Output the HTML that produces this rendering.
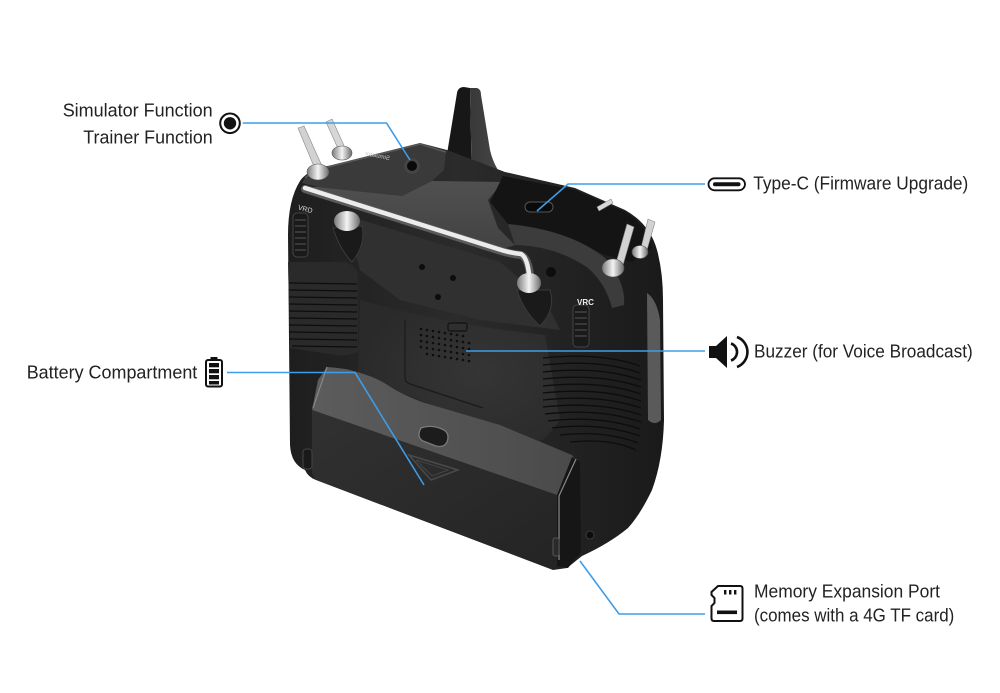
<!DOCTYPE html>
<html><head><meta charset="utf-8"><style>
html,body{margin:0;padding:0;background:#fff;}
svg{display:block}
text{font-family:"Liberation Sans",sans-serif;font-size:18px;fill:#222}
</style></head><body>
<svg width="1000" height="693" viewBox="0 0 1000 693" xmlns="http://www.w3.org/2000/svg">
<defs>
<linearGradient id="gBody" x1="0" y1="0" x2="1" y2="0">
<stop offset="0" stop-color="#1e1e1e"/><stop offset="0.45" stop-color="#2b2b2b"/><stop offset="1" stop-color="#1a1a1a"/>
</linearGradient>
<linearGradient id="gShelf" x1="0" y1="0" x2="1" y2="0">
<stop offset="0" stop-color="#5c5c5c"/><stop offset="0.6" stop-color="#525252"/><stop offset="1" stop-color="#4a4a4a"/>
</linearGradient>
<linearGradient id="gDoor" x1="0" y1="0" x2="1" y2="1">
<stop offset="0" stop-color="#313131"/><stop offset="1" stop-color="#242424"/>
</linearGradient>
<linearGradient id="gChrome" x1="0" y1="0" x2="1" y2="0">
<stop offset="0" stop-color="#7a7a7a"/><stop offset="0.5" stop-color="#f4f4f4"/><stop offset="1" stop-color="#6a6a6a"/>
</linearGradient>
<linearGradient id="gAntR" x1="0" y1="0" x2="1" y2="0">
<stop offset="0" stop-color="#383838"/><stop offset="1" stop-color="#4c4c4c"/>
</linearGradient>
<linearGradient id="gFace" x1="0" y1="0" x2="0" y2="1">
<stop offset="0" stop-color="#505050"/><stop offset="1" stop-color="#424242"/>
</linearGradient>
<radialGradient id="gMid" cx="0.6" cy="0.5" r="0.6">
<stop offset="0" stop-color="#353535"/><stop offset="1" stop-color="#2a2a2a"/>
</radialGradient>
</defs>

<!-- antenna -->
<path d="M457,93 Q458,87 464,87 L470,88 L472,186 L432,184 Q444,172 446,160 Z" fill="#171717"/>
<path d="M470,88 L477,88 Q481,89 481,95 L490,150 Q495,172 512,186 L472,186 Z" fill="url(#gAntR)"/>

<!-- main body silhouette -->
<path d="M300,181 C306,172 318,168 332,165 L420,143 L447,150 L505,172 L575,188 L625,210 Q650,224 657,250 Q663,272 663,300 L664,420 Q663,460 652,490 Q640,515 628,528 Q610,543 582,556 L567,568 L553,570 L316,480 Q308,477 305,470 Q291,464 290,445 L288,235 Q288,200 300,181 Z" fill="url(#gBody)"/>

<!-- mid body lighter face -->
<path d="M360,300 Q450,325 545,335 L560,420 Q540,450 520,445 L420,400 Q380,385 358,372 Z" fill="url(#gMid)"/>

<!-- top left plate -->
<path d="M302,183 C306,174 316,169 332,166 L420,144 L446,152 L444,170 L432,181 L402,196 L318,187 Z" fill="#3a3a3a"/>
<path d="M305,178 C312,171 320,169 332,166 L420,144 L446,152" fill="none" stroke="#5a5a5a" stroke-width="1.5"/>
<!-- front gray face above bar -->
<path d="M303,187 L318,187 L402,196 L432,181 L503,182 L488,200 L498,228 L515,245 L500,250 Z" fill="url(#gFace)"/>
<!-- right top black -->
<path d="M503,176 L575,190 L625,212 Q645,224 652,248 L632,262 L605,255 L565,236 L508,224 L490,202 Z" fill="#141414"/>
<!-- gray frame arc right -->
<path d="M508,224 Q570,230 605,258 Q626,282 624,305 L612,308 Q606,284 588,268 Q556,246 515,245 Z" fill="#3c3c3c"/>
<!-- type-c port -->
<rect x="525" y="202" width="28" height="10" rx="5" fill="#0a0a0a" stroke="#555" stroke-width="1"/>
<!-- simulator jack -->
<circle cx="412" cy="166" r="8" fill="#444"/>
<circle cx="412" cy="166" r="5" fill="#0a0a0a"/>
<text x="350" y="156" transform="rotate(12 370 155) scale(-1 1) translate(-740 0)" style="font-size:6px;fill:#ccc">Simulator</text>

<!-- under-bar face -->
<path d="M345,215 L500,262 L545,300 L560,330 L480,320 L400,300 L360,270 Z" fill="#303030"/>
<!-- holes -->
<circle cx="422" cy="267" r="3" fill="#0c0c0c"/>
<circle cx="453" cy="278" r="3" fill="#0c0c0c"/>
<circle cx="438" cy="297" r="3" fill="#0c0c0c"/>

<!-- left grip -->
<path d="M288,262 L345,262 Q358,266 358,278 L358,352 Q345,358 330,354 L290,348 Z" fill="#2a2a2a"/>
<g stroke="#0d0d0d" stroke-width="1.3">
<line x1="289" y1="283" x2="357" y2="284"/><line x1="289" y1="290" x2="357" y2="291"/>
<line x1="289" y1="297" x2="357" y2="298"/><line x1="289" y1="304" x2="357" y2="305"/>
<line x1="289" y1="311" x2="357" y2="312"/><line x1="289" y1="318" x2="357" y2="319"/>
<line x1="289" y1="325" x2="357" y2="326"/><line x1="289" y1="332" x2="357" y2="333"/>
<line x1="289" y1="339" x2="357" y2="340"/><line x1="292" y1="346" x2="357" y2="347"/>
</g>
<!-- left cup + pivot -->
<path d="M333,228 L362,226 Q366,245 352,262 Q340,250 333,228 Z" fill="#1a1a1a" stroke="#3a3a3a" stroke-width="1"/>
<ellipse cx="347" cy="221" rx="13" ry="10" fill="url(#gChrome)"/>
<!-- VRD wheel -->
<rect x="293" y="213" width="15" height="44" rx="4" fill="#1a1a1a" stroke="#444" stroke-width="1"/>
<g stroke="#555" stroke-width="1"><line x1="295" y1="220" x2="306" y2="220"/><line x1="295" y1="226" x2="306" y2="226"/><line x1="295" y1="232" x2="306" y2="232"/><line x1="295" y1="238" x2="306" y2="238"/><line x1="295" y1="244" x2="306" y2="244"/><line x1="295" y1="250" x2="306" y2="250"/></g>
<text x="298" y="210" style="font-size:7px;fill:#ddd" transform="rotate(15 300 208)">VRD</text>

<!-- chrome bar -->
<path d="M305,189 L498,250 Q510,254 521,255 Q528,258 530,275" fill="none" stroke="#5a5a5a" stroke-width="8" stroke-linecap="round" stroke-linejoin="round"/>
<path d="M305,188 L498,249 Q510,253 521,254 Q527,257 529,274" fill="none" stroke="#ececec" stroke-width="4.5" stroke-linecap="round" stroke-linejoin="round"/>
<!-- right cup + pivot -->
<path d="M517,290 L550,290 Q556,310 540,326 Q524,312 517,290 Z" fill="#1a1a1a" stroke="#3a3a3a" stroke-width="1"/>
<ellipse cx="529" cy="283" rx="12" ry="10" fill="url(#gChrome)"/>
<circle cx="551" cy="272" r="5" fill="#0d0d0d"/>

<!-- right side light strip -->
<path d="M647,293 Q657,300 660,320 L661,420 Q655,426 648,420 Z" fill="#5a5a5a"/>
<!-- right grip ridges -->
<g stroke="#0d0d0d" stroke-width="1.3" fill="none">
<path d="M543,358 Q600,352 640,366"/><path d="M543,365 Q600,359 640,373"/>
<path d="M543,372 Q600,366 641,380"/><path d="M543,379 Q600,373 641,387"/>
<path d="M543,386 Q600,380 641,394"/><path d="M543,393 Q600,387 641,401"/>
<path d="M543,400 Q600,394 641,408"/><path d="M543,407 Q600,401 641,415"/>
<path d="M545,414 Q600,408 641,422"/><path d="M548,421 Q600,415 640,429"/>
<path d="M552,428 Q600,422 640,436"/><path d="M560,435 Q605,430 638,443"/>
<path d="M570,442 Q610,438 636,450"/>
</g>
<!-- VRC wheel -->
<rect x="573" y="305" width="16" height="42" rx="4" fill="#1a1a1a" stroke="#444" stroke-width="1"/>
<g stroke="#555" stroke-width="1"><line x1="575" y1="312" x2="587" y2="312"/><line x1="575" y1="318" x2="587" y2="318"/><line x1="575" y1="324" x2="587" y2="324"/><line x1="575" y1="330" x2="587" y2="330"/><line x1="575" y1="336" x2="587" y2="336"/></g>
<text x="577" y="305" style="font-size:8px;fill:#eee;font-weight:bold">VRC</text>

<!-- speaker panel -->
<path d="M405,320 L405,378 Q405,382 410,384 L483,408" fill="none" stroke="#1a1a1a" stroke-width="1.2"/>
<rect x="448" y="323" width="19" height="8" rx="2" fill="none" stroke="#111" stroke-width="1.2"/>
<g fill="#0e0e0e">
<circle cx="421" cy="329" r="1.3"/><circle cx="427" cy="330" r="1.3"/><circle cx="433" cy="331" r="1.3"/><circle cx="439" cy="332" r="1.3"/><circle cx="445" cy="333" r="1.3"/><circle cx="451" cy="334" r="1.3"/><circle cx="457" cy="335" r="1.3"/><circle cx="463" cy="336" r="1.3"/>
<circle cx="421" cy="335" r="1.3"/><circle cx="427" cy="336" r="1.3"/><circle cx="433" cy="337" r="1.3"/><circle cx="439" cy="338" r="1.3"/><circle cx="445" cy="339" r="1.3"/><circle cx="451" cy="340" r="1.3"/><circle cx="457" cy="341" r="1.3"/><circle cx="463" cy="342" r="1.3"/><circle cx="469" cy="343" r="1.3"/>
<circle cx="421" cy="341" r="1.3"/><circle cx="427" cy="342" r="1.3"/><circle cx="433" cy="343" r="1.3"/><circle cx="439" cy="344" r="1.3"/><circle cx="445" cy="345" r="1.3"/><circle cx="451" cy="346" r="1.3"/><circle cx="457" cy="347" r="1.3"/><circle cx="463" cy="348" r="1.3"/><circle cx="469" cy="349" r="1.3"/>
<circle cx="421" cy="347" r="1.3"/><circle cx="427" cy="348" r="1.3"/><circle cx="433" cy="349" r="1.3"/><circle cx="439" cy="350" r="1.3"/><circle cx="445" cy="351" r="1.3"/><circle cx="451" cy="352" r="1.3"/><circle cx="457" cy="353" r="1.3"/><circle cx="463" cy="354" r="1.3"/><circle cx="469" cy="355" r="1.3"/>
<circle cx="427" cy="354" r="1.3"/><circle cx="433" cy="355" r="1.3"/><circle cx="439" cy="356" r="1.3"/><circle cx="445" cy="357" r="1.3"/><circle cx="451" cy="358" r="1.3"/><circle cx="457" cy="359" r="1.3"/><circle cx="463" cy="360" r="1.3"/><circle cx="469" cy="361" r="1.3"/>
</g>

<!-- battery shelf -->
<path d="M327,367 Q345,368 357,372 Q375,377 386,384 Q402,395 425,403 L500,425 L572,455 L576,460 L557,495 L312,410 L318,380 Z" fill="url(#gShelf)"/>
<!-- door -->
<path d="M312,410 L557,495 L557,562 Q556,569 549,568 L319,481 Q312,478 312,471 Z" fill="url(#gDoor)"/>
<!-- battery right side -->
<path d="M557,495 L572,457 L580,462 L581,552 L568,568 L557,566 Z" fill="#161616"/>
<path d="M576,459 L559,496 L559,560" fill="none" stroke="#8a8a8a" stroke-width="1.2"/>
<path d="M327,367 L313,408" fill="none" stroke="#888" stroke-width="1.2"/>
<!-- latch -->
<path d="M421,428 Q432,424 444,430 Q450,434 447,442 Q444,448 436,446 L423,441 Q416,437 421,428 Z" fill="#1c1c1c" stroke="#7a7a7a" stroke-width="1.3"/>
<!-- triangle mark -->
<path d="M409,455 L458,470 L431,480 Z" fill="none" stroke="#4a4a4a" stroke-width="1.5"/>
<path d="M416,460 L448,470 L432,476 Z" fill="none" stroke="#444" stroke-width="1"/>
<!-- feet, screw -->
<rect x="303" y="449" width="9" height="20" rx="3" fill="#1a1a1a" stroke="#444" stroke-width="1"/>
<rect x="553" y="538" width="6" height="18" rx="2" fill="#2a2a2a" stroke="#555" stroke-width="1"/>
<circle cx="590" cy="535" r="4" fill="#0c0c0c" stroke="#3a3a3a" stroke-width="1"/>

<!-- left toggles -->
<polygon points="298,128 304,126 322,166 315,169" fill="#d2d2d2" stroke="#888" stroke-width="0.6"/>
<ellipse cx="318" cy="172" rx="11" ry="8" fill="url(#gChrome)" stroke="#555" stroke-width="0.6"/>
<polygon points="326,122 332,119 346,150 340,153" fill="#d6d6d6" stroke="#888" stroke-width="0.6"/>
<ellipse cx="342" cy="153" rx="10" ry="7" fill="url(#gChrome)" stroke="#555" stroke-width="0.6"/>
<!-- right toggles -->
<polygon points="597,207 611,199 613,203 599,211" fill="#d8d8d8" stroke="#888" stroke-width="0.6"/>
<polygon points="627,224 634,227 623,265 616,263" fill="#d2d2d2" stroke="#888" stroke-width="0.6"/>
<ellipse cx="613" cy="268" rx="11" ry="9" fill="url(#gChrome)" stroke="#555" stroke-width="0.6"/>
<polygon points="648,219 655,222 647,250 641,248" fill="#d2d2d2" stroke="#888" stroke-width="0.6"/>
<ellipse cx="640" cy="252" rx="8" ry="6.5" fill="url(#gChrome)" stroke="#555" stroke-width="0.6"/>

<!-- connector lines -->
<g fill="none" stroke="#3d9de8" stroke-width="1.6">
<path d="M242.7,123 H386.5 L410,160"/>
<path d="M537,211 L568,184 H705"/>
<path d="M466,351 H705"/>
<path d="M227,372.5 H355 L424,485"/>
<path d="M580,561 L619,614 H705"/>
</g>

<!-- icons -->
<circle cx="230" cy="123.3" r="9.8" fill="none" stroke="#111" stroke-width="2"/>
<circle cx="230" cy="123.3" r="6.2" fill="#111"/>

<rect x="206" y="360" width="16" height="26.5" rx="2" fill="none" stroke="#111" stroke-width="2"/>
<rect x="210.5" y="357" width="7" height="3.5" fill="#111"/>
<rect x="209" y="363" width="10" height="4.3" fill="#111"/>
<rect x="209" y="369" width="10" height="4.3" fill="#111"/>
<rect x="209" y="375" width="10" height="4.3" fill="#111"/>
<rect x="209" y="381" width="10" height="3.5" fill="#111"/>

<rect x="708.5" y="178.3" width="36.5" height="12" rx="6" fill="none" stroke="#111" stroke-width="1.8"/>
<rect x="713" y="182.3" width="27.5" height="4" rx="2" fill="#111"/>

<path d="M709,346 L716,346 L727,336 L727,368 L716,358 L709,358 Z" fill="#111"/>
<path d="M731,343.5 A9,9 0 0 1 731,360.5" fill="none" stroke="#111" stroke-width="2.6"/>
<path d="M737,337 A16,16 0 0 1 737,367" fill="none" stroke="#111" stroke-width="2.6"/>

<path d="M718,586 H740 Q742.5,586 742.5,588.5 V618.5 Q742.5,621 740,621 H714 Q711.5,621 711.5,618.5 V606 L714.5,603 V598 L711.5,595 V592 Z" fill="none" stroke="#111" stroke-width="2"/>
<rect x="724" y="590" width="2.4" height="4.5" fill="#111"/>
<rect x="729" y="590" width="2.4" height="4.5" fill="#111"/>
<rect x="734" y="590" width="2.4" height="4.5" fill="#111"/>
<rect x="717" y="610.5" width="20" height="3.6" fill="#111"/>

<!-- labels -->
<text x="62.7" y="116.5" textLength="150" lengthAdjust="spacingAndGlyphs">Simulator Function</text>
<text x="83.3" y="143.3" textLength="129.4" lengthAdjust="spacingAndGlyphs">Trainer Function</text>
<text x="26.7" y="378.3" textLength="170.6" lengthAdjust="spacingAndGlyphs">Battery Compartment</text>
<text x="753.3" y="189.3" textLength="215" lengthAdjust="spacingAndGlyphs">Type-C (Firmware Upgrade)</text>
<text x="754" y="357.3" textLength="218.7" lengthAdjust="spacingAndGlyphs">Buzzer (for Voice Broadcast)</text>
<text x="754" y="597.3" textLength="186" lengthAdjust="spacingAndGlyphs">Memory Expansion Port</text>
<text x="754" y="621.5" textLength="200.3" lengthAdjust="spacingAndGlyphs">(comes with a 4G TF card)</text>
</svg>
</body></html>
